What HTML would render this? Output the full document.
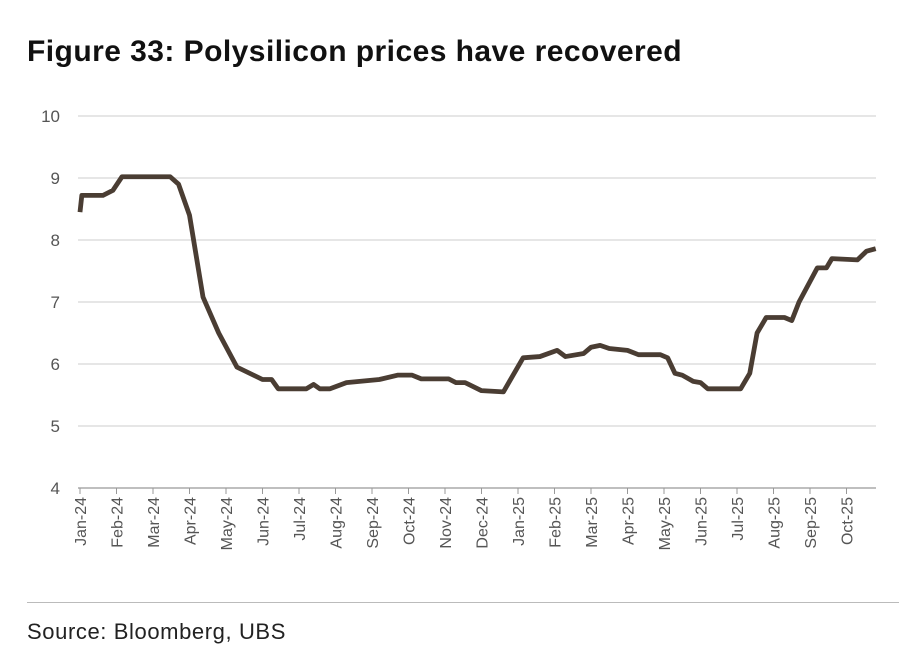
<!DOCTYPE html>
<html><head><meta charset="utf-8"><style>
body{margin:0;background:#fff;width:920px;height:666px;overflow:hidden;font-family:"Liberation Sans",sans-serif}
#title{position:absolute;left:27px;top:35px;font-size:30px;letter-spacing:0.45px;font-weight:bold;color:#111}
#src{position:absolute;left:27px;top:619px;font-size:22px;letter-spacing:0.6px;color:#222}
#rule{position:absolute;left:27px;top:602px;width:872px;height:1px;background:#bbb}
</style></head><body>
<div id="title">Figure 33: Polysilicon prices have recovered</div>
<svg id="chart" width="920" height="666" style="position:absolute;left:0;top:0"></svg>
<div id="rule"></div>
<div id="src">Source: Bloomberg, UBS</div>
<script>
const monthLabels=["Jan-24","Feb-24","Mar-24","Apr-24","May-24","Jun-24","Jul-24","Aug-24","Sep-24","Oct-24","Nov-24","Dec-24","Jan-25","Feb-25","Mar-25","Apr-25","May-25","Jun-25","Jul-25","Aug-25","Sep-25","Oct-25"];
const yTicks=[4,5,6,7,8,9,10];
const seriesMonth=[0,0.05,0.63,0.9,1.15,2.47,2.7,3.0,3.37,3.8,4.3,5.0,5.25,5.43,6.2,6.4,6.57,6.85,7.3,8.2,8.7,9.1,9.35,10.1,10.3,10.55,11.0,11.6,12.14,12.6,13.07,13.3,13.8,14.0,14.25,14.5,15.0,15.3,15.9,16.1,16.3,16.5,16.8,17.0,17.2,18.1,18.35,18.55,18.8,19.3,19.5,19.7,20.2,20.45,20.6,21.3,21.55,21.8];
const seriesPrice=[8.45,8.72,8.72,8.8,9.02,9.02,8.9,8.4,7.08,6.5,5.95,5.75,5.75,5.6,5.6,5.67,5.6,5.6,5.7,5.75,5.82,5.82,5.76,5.76,5.7,5.7,5.57,5.55,6.1,6.12,6.22,6.12,6.17,6.27,6.3,6.25,6.22,6.15,6.15,6.1,5.85,5.82,5.72,5.7,5.6,5.6,5.85,6.5,6.75,6.75,6.7,7.0,7.55,7.55,7.7,7.68,7.82,7.86];
const NS="http://www.w3.org/2000/svg";
const svg=document.getElementById('chart');
const X=m=>80+m*36.5;
const Y=v=>488-(v-4)*62;
function mk(t,a){const e=document.createElementNS(NS,t);for(const k in a)e.setAttribute(k,a[k]);svg.appendChild(e);return e;}
yTicks.forEach(v=>{
  if(v>4){const g=mk('line',{x1:78,x2:876,y1:Y(v),y2:Y(v),stroke:'#ddd','stroke-width':1.5});
  
  }
  const t=mk('text',{x:60,y:Y(v)+6,'text-anchor':'end','font-size':17,fill:'#555','font-family':'Liberation Sans, sans-serif'});
  t.textContent=v;
  
  
});
const ax=mk('line',{x1:78,x2:876,y1:488,y2:488,stroke:'#999','stroke-width':1.2});


monthLabels.forEach((l,i)=>{
  const x=X(i);
  const tk=mk('line',{x1:x,x2:x,y1:488,y2:494,stroke:'#999'});
  
  
  const t=mk('text',{x:0,y:0,transform:`translate(${x+6},497) rotate(-90)`,'text-anchor':'end','font-size':16,fill:'#555','font-family':'Liberation Sans, sans-serif'});
  t.textContent=l;
  
  
});
const p=mk('polyline',{points:seriesMonth.map((m,i)=>X(m)+','+Y(seriesPrice[i])).join(' '),fill:'none',stroke:'#4a3d33','stroke-width':4.8,'stroke-linejoin':'round'});


</script>
</body></html>
